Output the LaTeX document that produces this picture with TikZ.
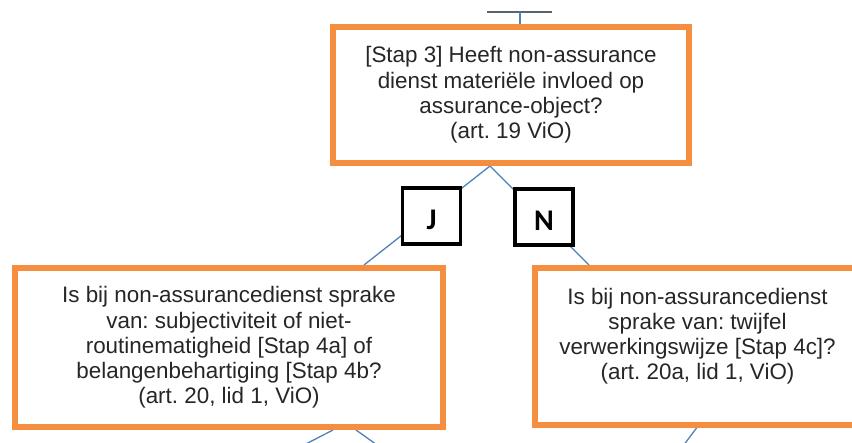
\documentclass[tikz,border=0pt]{standalone}
\usepackage{fontspec}
\setmainfont{Liberation Sans}
\newfontfamily\labelfont{Carlito}
\usetikzlibrary{backgrounds,calc}
\definecolor{boxorange}{HTML}{F58F3F}
\definecolor{linkblue}{HTML}{4F81BD}
\definecolor{bargray}{HTML}{5A6470}
\definecolor{ink}{HTML}{262626}
\frenchspacing

\begin{document}
\begin{tikzpicture}[x=1pt,y=-1pt,
  question/.style={draw=boxorange, line width=6pt, fill=white, text=ink,
    align=center, inner sep=0pt, font=\fontsize{22.4}{25.2}\selectfont},
  answer/.style={draw=black, line width=3.5pt, fill=white, inner sep=0pt,
    minimum width=58pt, minimum height=56pt, text height=27pt, text depth=0pt,
    font=\labelfont\bfseries\fontsize{30}{30}\selectfont},
  link/.style={draw=linkblue, line width=1.3pt},
  bar/.style={draw=bargray, line width=1.3pt}]
\useasboundingbox (0,0) rectangle (852,443);
\clip (0,0) rectangle (852,443);

% decision boxes
\node[question, minimum width=356pt, minimum height=136pt] (q3) at (511,95)
  {[Stap 3] Heeft non-assurance\\dienst materiële invloed op\\assurance-object?\\(art. 19 ViO)};
\node[question, minimum width=428pt, minimum height=159pt] (q4ab) at (229,347.5)
  {Is bij non-assurancedienst sprake\\van: subjectiviteit of niet-\\routinematigheid [Stap 4a] of\\belangenbehartiging [Stap 4b?\\(art. 20, lid 1, ViO)};
\node[question, minimum width=325pt, minimum height=157pt] (q4c) at (697.5,346.5)
  {Is bij non-assurancedienst\\sprake van: twijfel\\verwerkingswijze [Stap 4c]?\\(art. 20a, lid 1, ViO)\\\mbox{}};

% answer labels
\node[answer] (ja) at (431.5,216) {J};
\node[answer] (nee) at (544,217) {N};

% connectors
\coordinate (barL) at (487,12);
\coordinate (barR) at (552,12);
\coordinate (barM) at (520,12);
\coordinate (apex) at ($(q3.south)+(-21,0)$);
\coordinate (inL) at ($(q4ab.north)+(135,0)$);
\coordinate (inR) at ($(q4c.north west)+(57,0)$);
\coordinate (outA) at ($(q4ab.south)+(104,0)$);
\coordinate (outB) at ($(q4ab.south)+(127,0)$);
\coordinate (outC) at ($(q4c.south)+(-1,0)$);
\coordinate (endA) at (302,446);
\coordinate (endB) at (378.5,446);
\coordinate (endC) at (683,446);

\begin{scope}[on background layer]
  \draw[bar] (barL) -- (barR);
  \draw[link] (barM) -- (barM |- q3.north);
  \draw[link] (apex) -- (inL);
  \draw[link] (apex) -- (inR);
  \draw[link] (outA) -- (endA);
  \draw[link] (outB) -- (endB);
  \draw[link] (outC) -- (endC);
\end{scope}
\end{tikzpicture}
\end{document}
